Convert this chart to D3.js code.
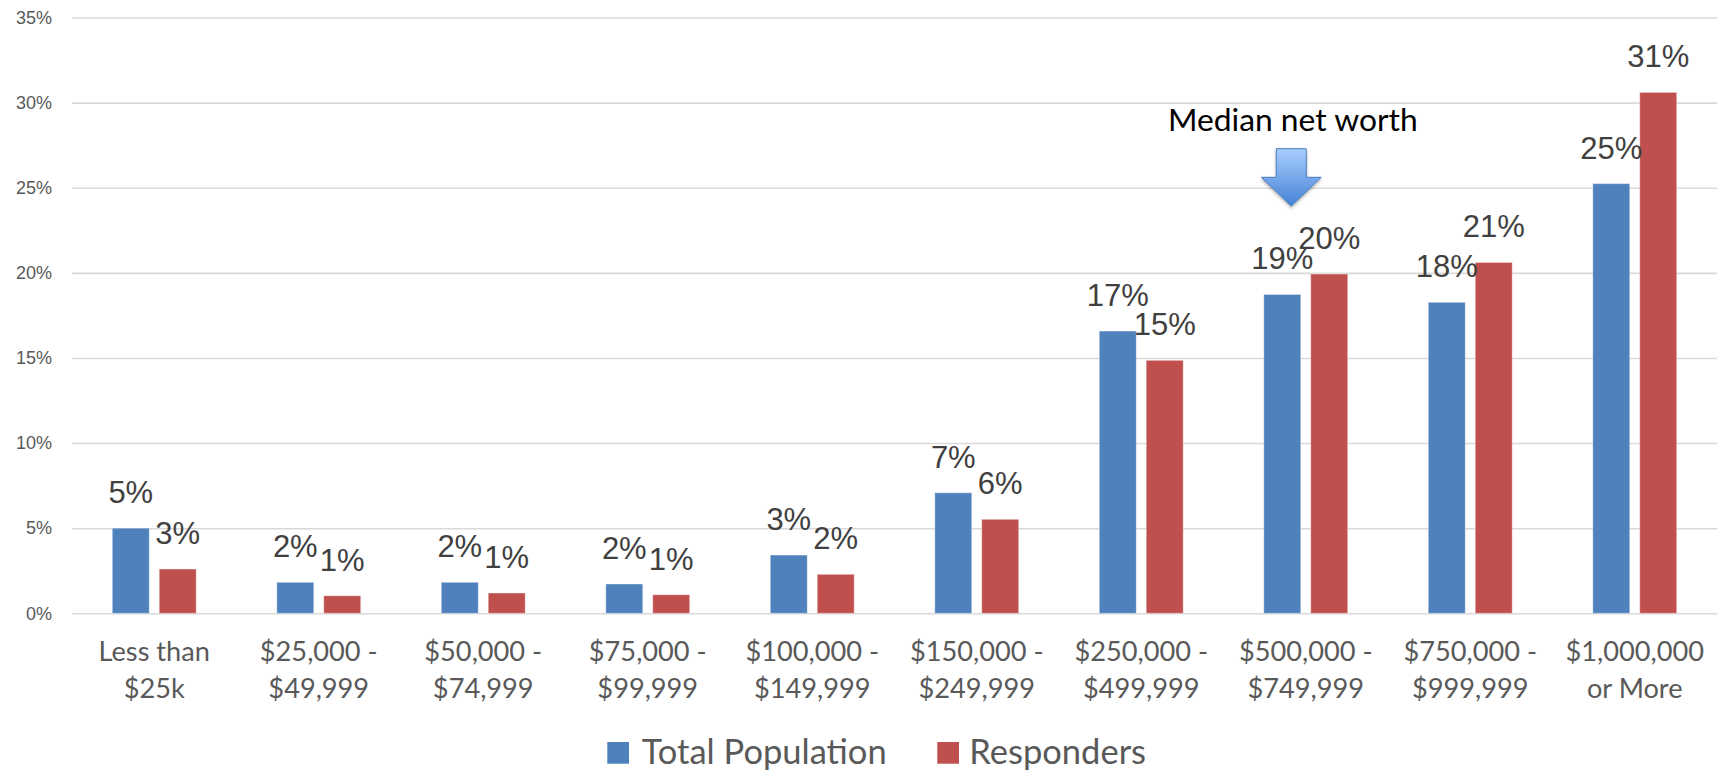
<!DOCTYPE html>
<html>
<head>
<meta charset="utf-8">
<script src="https://cdn.jsdelivr.net/npm/d3@7"></script>
<style>
  body { margin: 0; background: #ffffff; }
  svg { display: block; }
</style>
</head>
<body>
<svg id="chart" width="1718" height="773"></svg>
<script>
// ---------------- data ----------------
const categories = [
  "Less than\n$25k",
  "$25,000 -\n$49,999",
  "$50,000 -\n$74,999",
  "$75,000 -\n$99,999",
  "$100,000 -\n$149,999",
  "$150,000 -\n$249,999",
  "$250,000 -\n$499,999",
  "$500,000 -\n$749,999",
  "$750,000 -\n$999,999",
  "$1,000,000\nor More"
];
const seriesNames = ["Total Population", "Responders"];
const totalPopulation = [0.0500, 0.0182, 0.0182, 0.0172, 0.0342, 0.0708, 0.1658, 0.1873, 0.1827, 0.2524];
const responders      = [0.0260, 0.0103, 0.0119, 0.0109, 0.0229, 0.0552, 0.1486, 0.1993, 0.2061, 0.3060];
const yTicks = [0, 0.05, 0.10, 0.15, 0.20, 0.25, 0.30, 0.35];
const annotationText = "Median net worth";
const annotationCategory = categories[7];

// ---------------- styles ----------------
const colors = { "Total Population": "#4f81bd", "Responders": "#c0504d" };
const calibriLike = "Lato, 'Open Sans', sans-serif";
const arialLike = "'Liberation Sans', Arial, Helvetica, sans-serif";

const svg = d3.select("#chart");

const plotLeft = 72, plotRight = 1717, plotTop = 17.5, plotBottom = 613.3;

const x0 = d3.scaleBand()
  .domain(categories)
  .range([plotLeft, plotRight])
  .paddingInner(0.49)
  .paddingOuter(0.245);

const x1 = d3.scaleBand()
  .domain(seriesNames)
  .range([0, x0.bandwidth()])
  .paddingInner(0.213)
  .paddingOuter(0);

const y = d3.scaleLinear().domain([0, 0.35]).range([plotBottom, plotTop]);

const pct = d3.format(".0%");

// ---------------- y axis / gridlines ----------------
const yAxis = svg.append("g")
  .attr("transform", `translate(${plotLeft},0)`)
  .call(d3.axisLeft(y)
    .tickValues(yTicks)
    .tickSize(-(plotRight - plotLeft))
    .tickPadding(20)
    .tickFormat(pct));
yAxis.select(".domain").remove();
yAxis.selectAll(".tick line")
  .attr("stroke", "#d9d9d9")
  .attr("stroke-width", 1.6);
yAxis.selectAll(".tick text")
  .attr("fill", "#595959")
  .style("font-family", arialLike)
  .style("font-size", "18px");

// ---------------- bars ----------------
const rows = categories.map((c, i) => ({
  category: c,
  values: [
    { series: seriesNames[0], value: totalPopulation[i] },
    { series: seriesNames[1], value: responders[i] }
  ]
}));

const groups = svg.append("g").selectAll("g")
  .data(rows)
  .join("g")
  .attr("transform", d => `translate(${x0(d.category)},0)`);

groups.selectAll("rect")
  .data(d => d.values)
  .join("rect")
  .attr("x", d => x1(d.series))
  .attr("y", d => y(d.value))
  .attr("width", x1.bandwidth())
  .attr("height", d => y(0) - y(d.value))
  .attr("fill", d => colors[d.series])
  .attr("stroke", "#ffffff")
  .attr("stroke-opacity", 0.35)
  .attr("stroke-width", 1);

groups.selectAll("text.value")
  .data(d => d.values)
  .join("text")
  .attr("class", "value")
  .attr("x", d => x1(d.series) + x1.bandwidth() / 2)
  .attr("y", d => y(d.value) - 25)
  .attr("text-anchor", "middle")
  .attr("fill", "#404040")
  .style("font-family", arialLike)
  .style("font-size", "31px")
  .text(d => pct(d.value));

// ---------------- x axis (category labels) ----------------
const xAxis = svg.append("g")
  .attr("transform", `translate(0,${plotBottom})`)
  .call(d3.axisBottom(x0).tickSize(0).tickPadding(0));
xAxis.select(".domain").remove();
xAxis.selectAll(".tick text")
  .attr("dy", null)
  .attr("y", null)
  .attr("fill", "#595959")
  .style("font-family", calibriLike)
  .style("font-size", "27.2px")
  .each(function(d) {
    const t = d3.select(this);
    t.text(null);
    d.split("\n").forEach((line, k) => {
      t.append("tspan").attr("x", 0).attr("y", 47.7 + k * 36.7).text(line);
    });
  });

// ---------------- annotation ----------------
const defs = svg.append("defs");
const grad = defs.append("linearGradient")
  .attr("id", "arrowGrad").attr("x1", 0).attr("y1", 0).attr("x2", 0).attr("y2", 1);
grad.append("stop").attr("offset", "0%").attr("stop-color", "#a9ceff");
grad.append("stop").attr("offset", "100%").attr("stop-color", "#4683d6");
const shadow = defs.append("filter").attr("id", "shadow").attr("x", "-30%").attr("y", "-30%").attr("width", "160%").attr("height", "160%");
shadow.append("feDropShadow").attr("dx", 0).attr("dy", 2).attr("stdDeviation", 1.5).attr("flood-color", "#000").attr("flood-opacity", 0.3);

const ax = x0(annotationCategory) + x0.bandwidth() / 2 - 14.5;
svg.append("text")
  .attr("x", ax + 1.5)
  .attr("y", 130.7)
  .attr("text-anchor", "middle")
  .attr("fill", "#000000")
  .style("font-family", calibriLike)
  .style("font-size", "31.8px")
  .text(annotationText);

const arrowPts = [
  [ax - 15, 148.7], [ax + 15, 148.7], [ax + 15, 177.3], [ax + 30, 177.3],
  [ax, 206], [ax - 30, 177.3], [ax - 15, 177.3]
];
svg.append("path")
  .attr("d", d3.line()(arrowPts) + "Z")
  .attr("fill", "url(#arrowGrad)")
  .attr("stroke", "#4a7ebb")
  .attr("stroke-width", 1)
  .attr("filter", "url(#shadow)");

// ---------------- legend ----------------
const legendItems = [
  { name: seriesNames[0], rx: 607.3, tx: 641.7 },
  { name: seriesNames[1], rx: 937.3, tx: 969.3 }
];
const legend = svg.append("g");
legend.selectAll("rect")
  .data(legendItems)
  .join("rect")
  .attr("x", d => d.rx)
  .attr("y", 742)
  .attr("width", 21.7)
  .attr("height", 21.7)
  .attr("fill", d => colors[d.name]);
legend.selectAll("text")
  .data(legendItems)
  .join("text")
  .attr("x", d => d.tx)
  .attr("y", 763.7)
  .attr("fill", "#595959")
  .style("font-family", calibriLike)
  .style("font-size", "34.5px")
  .text(d => d.name);
</script>
</body>
</html>
